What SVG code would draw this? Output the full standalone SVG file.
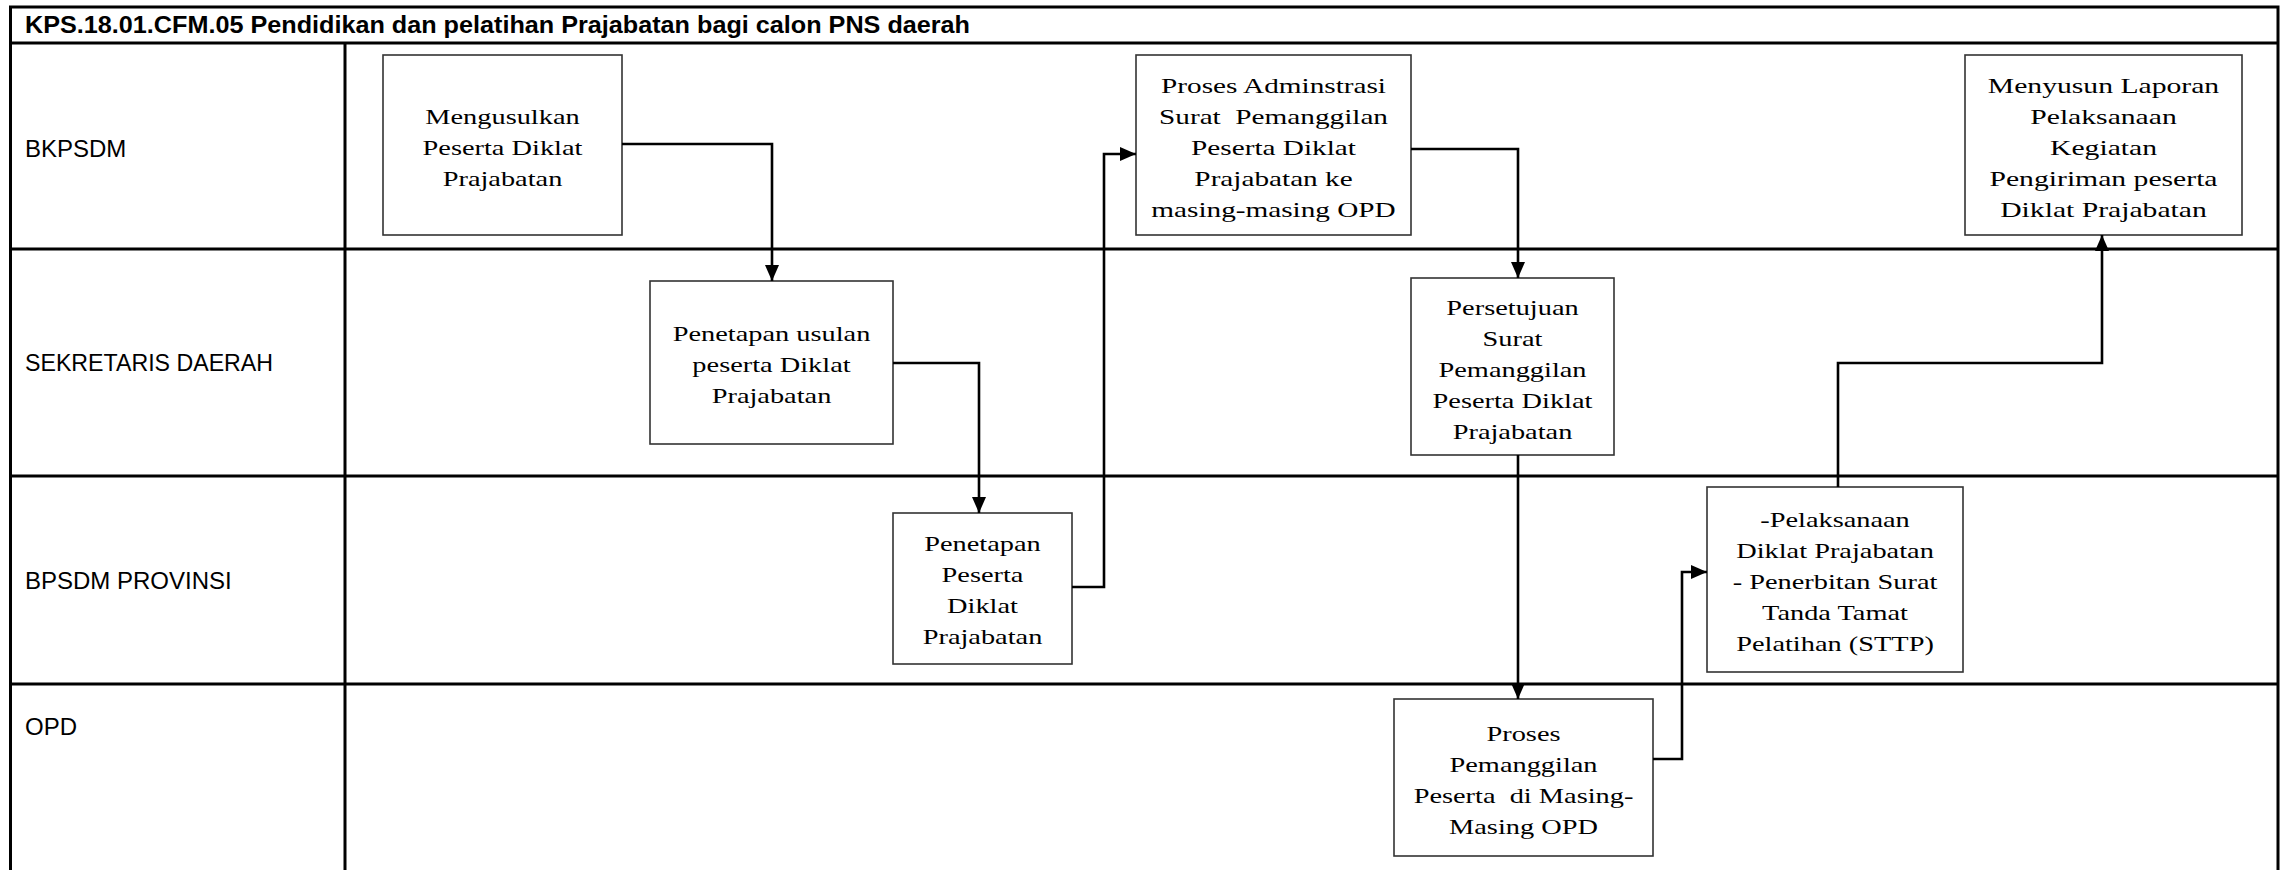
<svg xmlns="http://www.w3.org/2000/svg" width="2289" height="870" viewBox="0 0 2289 870">
<style>
.lane{fill:none;stroke:#000;stroke-width:3}
.box{fill:#fff;stroke:#333;stroke-width:1.6}
.t{font-family:"Liberation Serif","Times New Roman",serif;font-size:21.5px;fill:#000;text-anchor:middle;white-space:pre}
.lbl{font-family:"Liberation Sans",Arial,sans-serif;font-size:24px;fill:#000}
.ttl{font-family:"Liberation Sans",Arial,sans-serif;font-size:23px;font-weight:bold;fill:#000}
.c{fill:none;stroke:#000;stroke-width:2.6;marker-end:url(#ah)}
</style>
<defs>
<marker id="ah" markerUnits="userSpaceOnUse" markerWidth="16" markerHeight="14" refX="16" refY="7" orient="auto">
<path d="M0,0 L16,7 L0,14 z" fill="#000"/>
</marker>
</defs>
<rect width="2289" height="870" fill="#fff"/>
<g id="frame">
<path class="lane" d="M10.5,872 V7 H2278 V872"/>
<path class="lane" d="M10.5,43 H2278 M10.5,249 H2278 M10.5,476 H2278 M10.5,684 H2278 M345,43 V872"/>
<text class="ttl" x="25" y="33" textLength="945" lengthAdjust="spacingAndGlyphs">KPS.18.01.CFM.05 Pendidikan dan pelatihan Prajabatan bagi calon PNS daerah</text>
</g>
<g id="lanes">
<text class="lbl" x="25" y="157">BKPSDM</text>
<text class="lbl" x="25" y="371" textLength="248" lengthAdjust="spacingAndGlyphs">SEKRETARIS DAERAH</text>
<text class="lbl" x="25" y="589">BPSDM PROVINSI</text>
<text class="lbl" x="25" y="735">OPD</text>
</g>
<g id="n1">
<rect class="box" x="383" y="55" width="239" height="180"/>
<text class="t" transform="translate(502.5,0) scale(1.32,1)"><tspan x="0" y="124">Mengusulkan</tspan><tspan x="0" y="155">Peserta Diklat</tspan><tspan x="0" y="186">Prajabatan</tspan></text>
</g>
<g id="n2">
<rect class="box" x="650" y="281" width="243" height="163"/>
<text class="t" transform="translate(771.5,0) scale(1.32,1)"><tspan x="0" y="341">Penetapan usulan</tspan><tspan x="0" y="372">peserta Diklat</tspan><tspan x="0" y="403">Prajabatan</tspan></text>
</g>
<g id="n3">
<rect class="box" x="893" y="513" width="179" height="151"/>
<text class="t" transform="translate(982.5,0) scale(1.32,1)"><tspan x="0" y="551">Penetapan</tspan><tspan x="0" y="582">Peserta</tspan><tspan x="0" y="613">Diklat</tspan><tspan x="0" y="644">Prajabatan</tspan></text>
</g>
<g id="n4">
<rect class="box" x="1136" y="55" width="275" height="180"/>
<text class="t" transform="translate(1273.5,0) scale(1.36,1)"><tspan x="0" y="93">Proses Adminstrasi</tspan><tspan x="0" y="124">Surat  Pemanggilan</tspan><tspan x="0" y="155">Peserta Diklat</tspan><tspan x="0" y="186">Prajabatan ke</tspan><tspan x="0" y="217">masing-masing OPD</tspan></text>
</g>
<g id="n5">
<rect class="box" x="1411" y="278" width="203" height="177"/>
<text class="t" transform="translate(1512.5,0) scale(1.32,1)"><tspan x="0" y="315">Persetujuan</tspan><tspan x="0" y="346">Surat</tspan><tspan x="0" y="377">Pemanggilan</tspan><tspan x="0" y="408">Peserta Diklat</tspan><tspan x="0" y="439">Prajabatan</tspan></text>
</g>
<g id="n6">
<rect class="box" x="1394" y="699" width="259" height="157"/>
<text class="t" transform="translate(1523.5,0) scale(1.32,1)"><tspan x="0" y="741">Proses</tspan><tspan x="0" y="772">Pemanggilan</tspan><tspan x="0" y="803">Peserta  di Masing-</tspan><tspan x="0" y="834">Masing OPD</tspan></text>
</g>
<g id="n7">
<rect class="box" x="1707" y="487" width="256" height="185"/>
<text class="t" transform="translate(1835,0) scale(1.32,1)"><tspan x="0" y="527">-Pelaksanaan</tspan><tspan x="0" y="558">Diklat Prajabatan</tspan><tspan x="0" y="589">- Penerbitan Surat</tspan><tspan x="0" y="620">Tanda Tamat</tspan><tspan x="0" y="651">Pelatihan (STTP)</tspan></text>
</g>
<g id="n8">
<rect class="box" x="1965" y="55" width="277" height="180"/>
<text class="t" transform="translate(2103.5,0) scale(1.38,1)"><tspan x="0" y="93">Menyusun Laporan</tspan><tspan x="0" y="124">Pelaksanaan</tspan><tspan x="0" y="155">Kegiatan</tspan><tspan x="0" y="186">Pengiriman peserta</tspan><tspan x="0" y="217">Diklat Prajabatan</tspan></text>
</g>
<g id="connectors">
<path class="c" d="M622,144 H772 V281"/>
<path class="c" d="M893,363 H979 V513"/>
<path class="c" d="M1072,587 H1104 V154 H1136"/>
<path class="c" d="M1411,149 H1518 V278"/>
<path class="c" d="M1518,455 V699"/>
<path class="c" d="M1653,759 H1682 V572 H1707"/>
<path class="c" d="M1838,487 V363 H2102 V235"/>
</g>
</svg>
